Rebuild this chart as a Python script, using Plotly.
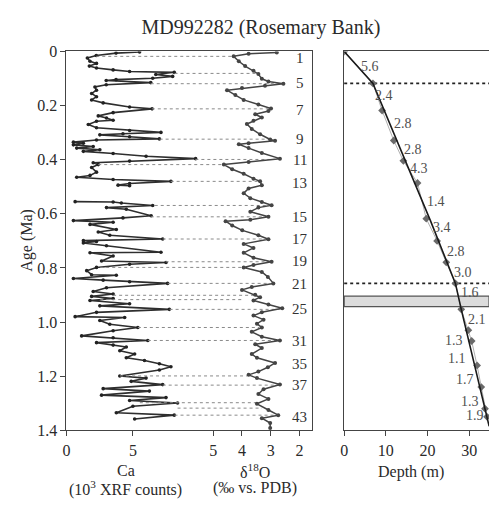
import plotly.graph_objects as go

# ---------------- data ----------------
ca_age = [0.002,0.006,0.015,0.024,0.036,0.044,0.054,0.061,0.068,0.074,
          0.077,0.085,0.092,0.099,0.104,0.107,0.115,0.123,0.131,0.143,
          0.155,0.167,0.179,0.190,0.205,0.212,0.226,0.238,0.246,0.254,
          0.258,0.270,0.282,0.292,0.299,0.304,0.308,0.315,0.323,0.327,
          0.335,0.339,
          0.345,0.351,0.357,0.363,0.369,0.377,0.387,0.396,0.405,0.411,
          0.418,0.429,0.446,0.458,0.465,0.473,0.480,0.488,0.494,0.496,
          None,
          0.555,0.556,0.560,0.569,0.577,0.583,0.607,0.615,0.625,0.631,
          0.639,0.658,0.667,0.679,0.693,0.699,
          0.702,0.708,0.718,0.742,0.744,0.756,0.774,0.780,0.786,0.798,
          0.810,0.825,0.827,0.839,0.845,0.851,0.857,0.873,0.887,0.896,
          0.905,0.913,0.920,0.932,0.940,0.953,0.964,0.980,0.983,0.994,
          1.008,1.020,1.032,1.051,
          1.058,1.068,1.076,1.085,1.092,1.106,1.118,1.132,1.142,1.154,
          1.165,1.177,1.199,1.207,1.219,1.231,1.246,1.255,1.270,1.279,
          1.290,1.299,1.311,1.335,1.344,1.358]
ca_val = [5.50,3.73,2.24,1.57,1.77,2.26,1.72,2.26,3.51,4.75,
          8.11,6.72,7.99,6.49,3.73,2.99,6.34,2.99,2.14,2.26,
          1.89,2.26,1.89,2.76,4.75,6.44,3.51,2.39,3.01,3.51,
          2.26,1.64,2.26,4.75,7.11,4.25,2.51,4.75,6.99,2.26,
          0.52,1.27,
          0.52,2.01,0.77,2.51,1.27,3.51,5.99,9.72,4.75,2.01,
          2.39,1.89,2.26,1.77,0.77,3.51,7.86,4.75,3.88,4.75,
          None,
          0.65,3.51,4.13,6.49,3.01,4.50,6.37,4.25,0.52,3.51,
          1.77,3.75,2.39,3.26,7.24,1.27,
          2.26,1.27,3.01,7.11,1.77,3.51,2.64,7.49,4.75,2.26,
          1.52,1.89,3.75,0.52,2.76,4.75,7.61,3.01,2.01,3.51,
          1.89,3.51,1.77,4.75,2.51,7.74,2.26,0.65,4.38,2.51,
          3.26,5.37,3.51,1.14,
          3.51,6.12,2.26,3.51,4.50,4.01,5.13,4.50,5.87,6.99,
          7.86,6.99,4.01,5.99,4.87,7.24,2.76,6.24,2.64,7.49,
          4.75,8.36,5.00,3.75,8.11,5.13]

d18o_age = [0.004,0.008,0.018,0.036,0.054,0.071,0.083,0.101,0.111,0.119,
            0.127,0.135,0.143,0.161,0.179,0.196,0.211,0.220,0.232,0.244,
            0.256,0.268,0.286,0.306,0.325,0.330,0.339,
            0.343,0.357,0.375,0.396,0.408,0.418,0.435,0.452,0.470,0.480,
            0.494,0.506,0.524,0.542,0.556,0.568,0.577,0.592,0.611,0.622,
            0.627,0.643,0.661,0.679,0.694,
            0.711,0.726,0.744,0.762,0.777,0.789,0.798,0.815,0.833,0.857,0.870,
            0.881,0.899,0.908,0.920,0.935,0.949,0.964,0.976,0.991,1.006,
            1.020,1.036,1.054,
            1.068,1.082,1.096,1.118,1.132,1.151,1.167,1.183,1.195,1.207,1.231,
            1.248,1.266,1.284,1.302,1.325,1.344,1.355,1.373,1.391]
d18o_val = [2.79,3.77,4.29,4.11,3.89,3.60,3.43,3.31,3.08,2.56,
            3.20,4.00,4.52,4.23,3.94,3.43,2.99,3.08,3.54,3.31,
            3.60,3.83,3.66,3.37,3.02,2.85,3.77,
            4.11,3.77,3.31,2.68,3.77,4.63,4.34,3.94,3.60,3.37,
            3.31,3.77,3.94,3.71,3.31,2.97,3.43,3.71,3.08,3.71,
            4.57,4.34,3.99,3.43,3.08,
            3.94,3.60,3.94,3.60,2.97,3.60,3.94,3.31,3.10,2.91,3.66,
            4.00,3.54,3.37,3.60,3.08,2.60,3.31,3.60,3.25,3.48,
            3.31,3.66,3.31,
            2.68,3.54,3.31,3.66,3.48,2.85,3.10,3.43,3.77,3.48,2.68,
            3.25,3.43,3.08,3.48,3.08,2.74,3.31,3.02,3.02]

# tie lines (age, Ca end, d18O end)
tie_age  = [0.018,0.081,0.119,0.212,0.324,0.399,0.418,0.480,0.569,0.611,0.693,0.777,
            0.798,0.857,0.901,0.917,0.953,1.020,1.068,1.199,1.233,1.298,1.318,1.344]
tie_ca   = [2.24,8.13,6.34,6.42,7.01,9.70,2.39,7.84,6.64,6.34,7.24,7.46,
            2.54,7.61,3.51,2.54,7.76,5.37,6.12,4.03,7.24,5.52,8.36,8.13]
tie_d18o = [4.28,3.41,2.79,3.03,3.03,2.86,4.69,3.41,3.03,3.21,3.21,3.07,
            3.93,3.03,3.55,3.93,2.69,3.41,2.72,3.83,2.69,3.41,3.31,2.72]

mis_labels = ["1","5","7","9","11","13","15","17","19","21","25","31","35","37","43"]
mis_age = [0.024,0.118,0.218,0.325,0.400,0.486,0.611,0.693,0.775,0.858,0.950,1.071,1.156,1.232,1.349]

# age-depth model
model_depth = [0, 6.9, 20.7, 26.7, 28.1, 34.8]
model_age   = [0, 0.118, 0.625, 0.857, 0.953, 1.385]
tie_depth   = [0, 6.9, 9.1, 11.9, 14.2, 17.6, 19.7, 22.3, 24.5, 26.7, 28.1, 29.8, 30.6, 31.9, 32.9, 33.8, 34.3]
tie_dage    = [0, 0.118, 0.218, 0.329, 0.404, 0.486, 0.618, 0.700, 0.779, 0.857, 0.953, 1.03, 1.07, 1.16, 1.24, 1.32, 1.35]

rate_labels = ["5.6","2.4","2.8","2.8","4.3","1.4","3.4","2.8","3.0","1.6","2.1","1.3","1.1","1.7","1.3","1.9"]
rate_depth  = [6.2, 9.6, 14.2, 16.4, 17.9, 22.1, 23.5, 26.8, 28.6, 30.2, 31.8, 26.3, 27.1, 29.0, 30.2, 31.4]
rate_age    = [0.054,0.164,0.265,0.363,0.432,0.554,0.649,0.738,0.815,0.889,0.992,1.068,1.135,1.214,1.292,1.345]

dotted_ages = [0.118, 0.857]
band_age = [0.904, 0.943]

age_ticks = [0, 0.2, 0.4, 0.6, 0.8, 1.0, 1.2, 1.4]
age_ticktext = ["0", "0.2", "0.4", "0.6", "0.8", "1.0", "1.2", "1.4"]

# ---------------- layout constants ----------------
W, H = 489, 506
CA_MAX = 18.51
D_LEFT, D_RIGHT = 10.10, 1.55
DEPTH_MAX = 34.76
FONT = "'Liberation Serif', 'Times New Roman', 'DejaVu Serif', serif"
INK = "#2a2a2a"

def px_x(p):
    return p / W

def px_y(p):
    return 1 - p / H

def ca_to_d(ca):
    return D_LEFT + (ca / CA_MAX) * (D_RIGHT - D_LEFT)

left_dom = [px_x(63), px_x(311)]
right_dom = [px_x(343), 1.0]
y_dom = [px_y(437), px_y(45)]

fig = go.Figure()

# tie lines
tx, ty = [], []
for a, c, d in zip(tie_age, tie_ca, tie_d18o):
    tx += [ca_to_d(c), d, None]
    ty += [a, a, None]
fig.add_trace(go.Scatter(x=tx, y=ty, xaxis="x2", yaxis="y", mode="lines",
                         line=dict(color="#8a8a8a", width=1, dash="dot"),
                         hoverinfo="skip", showlegend=False))

fig.add_trace(go.Scatter(x=ca_val, y=ca_age, xaxis="x", yaxis="y", mode="lines+markers",
                         line=dict(color="#2e2e2e", width=1.6),
                         marker=dict(size=3.6, color="#222222"),
                         showlegend=False))
fig.add_trace(go.Scatter(x=d18o_val, y=d18o_age, xaxis="x2", yaxis="y", mode="lines+markers",
                         line=dict(color="#444444", width=1.5),
                         marker=dict(size=4, color="#444444"),
                         showlegend=False))

# right panel
for a in dotted_ages:
    fig.add_shape(type="line", xref="x3 domain", yref="y3", x0=0, x1=1, y0=a, y1=a,
                  layer="below", line=dict(color="#222222", width=1.6, dash="dot"))
fig.add_shape(type="rect", xref="x3 domain", yref="y3", x0=0, x1=1,
              y0=band_age[0], y1=band_age[1], layer="below",
              fillcolor="#dcdcdc", line=dict(color="#555555", width=1.2))
fig.add_trace(go.Scatter(x=tie_depth, y=tie_dage, xaxis="x3", yaxis="y3", mode="lines+markers",
                         line=dict(color="#b0b0b0", width=1),
                         marker=dict(symbol="diamond", size=6, color="#6a6a6a"),
                         showlegend=False))
fig.add_trace(go.Scatter(x=model_depth, y=model_age, xaxis="x3", yaxis="y3", mode="lines",
                         line=dict(color="#1a1a1a", width=1.6),
                         showlegend=False))

annotations = []
for lab, a in zip(mis_labels, mis_age):
    annotations.append(dict(text=lab, xref="x domain", yref="y", x=0.948, y=a,
                            showarrow=False, xanchor="center", yanchor="middle",
                            font=dict(family=FONT, size=15, color="#333333")))
for lab, d, a in zip(rate_labels, rate_depth, rate_age):
    annotations.append(dict(text=lab, xref="x3", yref="y3", x=d, y=a,
                            showarrow=False, xanchor="center", yanchor="middle",
                            font=dict(family=FONT, size=14, color="#505050")))

label_font = dict(family=FONT, size=16, color=INK)
for txt, x, y in [("Ca", 123, 479), ("(10<sup>3</sup> XRF counts)", 123, 497),
                  ("δ<sup>18</sup>O", 253, 479), ("(‰ vs. PDB)", 253, 497),
                  ("Depth (m)", 410, 480)]:
    annotations.append(dict(text=txt, xref="paper", yref="paper", x=px_x(x), y=px_y(y),
                            showarrow=False, xanchor="center", yanchor="middle",
                            font=label_font))
annotations.append(dict(text="Age (Ma)", xref="paper", yref="paper", x=px_x(23), y=px_y(240),
                        showarrow=False, textangle=-90, xanchor="center", yanchor="middle",
                        font=label_font))

axis_common = dict(showgrid=False, zeroline=False, linecolor="#444444", linewidth=1,
                   tickcolor="#444444", ticklen=5, tickwidth=1,
                   tickfont=dict(family=FONT, size=16, color=INK))

fig.update_layout(
    width=W, height=H, autosize=False,
    margin=dict(l=0, r=0, t=0, b=0),
    paper_bgcolor="white", plot_bgcolor="rgba(0,0,0,0)",
    font=dict(family=FONT, size=16, color=INK),
    title=dict(text="MD992282 (Rosemary Bank)", x=px_x(259), y=px_y(20),
               xref="paper", yref="paper", xanchor="center", yanchor="middle",
               font=dict(family=FONT, size=20, color=INK)),
    xaxis=dict(domain=left_dom, range=[0, CA_MAX], anchor="y", side="bottom",
               tickvals=[0, 5], ticks="outside", showline=True, mirror=True, **axis_common),
    xaxis2=dict(domain=left_dom, range=[D_LEFT, D_RIGHT], anchor="y", overlaying="x", side="bottom",
                tickvals=[5, 4, 3, 2], ticks="outside", showline=False, **axis_common),
    yaxis=dict(domain=y_dom, range=[1.4, 0], anchor="x", tickvals=age_ticks, ticktext=age_ticktext,
               ticks="outside", showline=True, mirror=True, **axis_common),
    xaxis3=dict(domain=right_dom, range=[0, DEPTH_MAX], anchor="y3",
                tickvals=[0, 10, 20, 30], ticks="outside", showline=True, mirror=True, **axis_common),
    yaxis3=dict(domain=y_dom, range=[1.4, 0], anchor="x3", showticklabels=False, ticks="",
                showline=True, mirror=False, **axis_common),
    annotations=annotations,
)

fig.write_html("out.html")
